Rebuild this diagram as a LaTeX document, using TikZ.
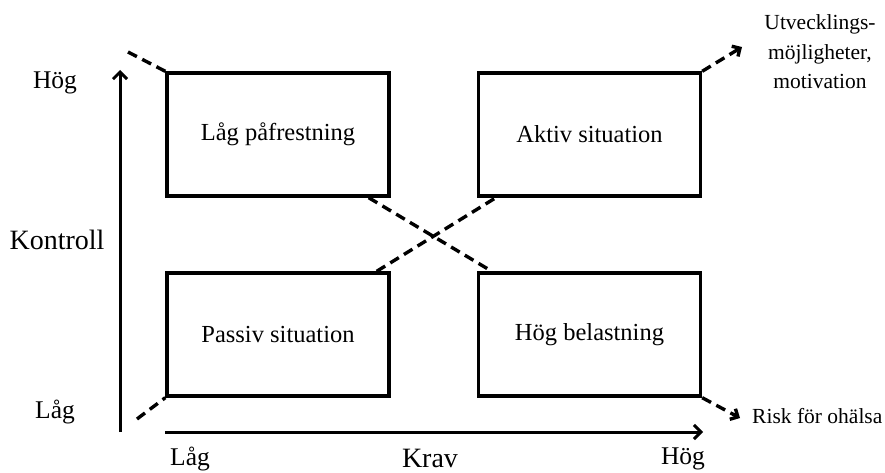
\documentclass[tikz,border=0pt]{standalone}
\usepackage{fontspec}
\setmainfont{Liberation Serif}
\usetikzlibrary{arrows.meta,calc}
\tikzset{
  quad/.style={draw, line width=3.4pt, minimum width=222pt, minimum height=123pt, inner sep=0pt, font=\fontsize{24.5}{28}\selectfont},
  dline/.style={line width=3.4pt, dash pattern=on 10pt off 6pt},
  axis/.style={line width=3pt, -{Straight Barb[length=7pt,width=14pt,line width=3pt]}},
  darr/.style={dline, -{Straight Barb[length=6pt,width=12pt,line width=3.4pt]}},
  lab/.style={font=\fontsize{25.5}{29}\selectfont, inner sep=0pt},
  ttl/.style={font=\fontsize{28}{31}\selectfont, inner sep=0pt},
  side/.style={font=\fontsize{21.5}{29.5}\selectfont, inner sep=0pt}
}
\begin{document}
\begin{tikzpicture}[x=1pt,y=-1pt]
\useasboundingbox (0,0) rectangle (885,473);
\node[quad] (b1) at (278,134.5) {Låg påfrestning};
\node[quad] (b2) at (589.5,134.5) {Aktiv situation};
\node[quad] (b3) at (278,334.5) {Passiv situation};
\node[quad] (b4) at (589.5,334.5) {Hög belastning};
% axes
\coordinate (yo) at (120,432);
\coordinate (yt) at (120,70);
\coordinate (xo) at (165,432);
\coordinate (xt) at (703,432);
\draw[axis] (yo) -- (yt);
\draw[axis] (xo) -- (xt);
% dashed connectors
\coordinate (tl) at (128,52);
\coordinate (bl) at (137,419);
\coordinate (tr) at (742,47);
\coordinate (br) at (740,418);
\draw[dline] (tl) -- (b1.north west);
\draw[dline] (bl) -- (b3.south west);
\draw[dline] ([xshift=-22pt]b1.south east) -- ([xshift=15pt]b4.north west);
\draw[dline] ([xshift=-14pt]b3.north east) -- ([xshift=19pt]b2.south west);
\draw[darr] (b2.north east) -- (tr);
\draw[darr] (b4.south east) -- (br);
% labels
\node[lab] (hy) at (55,83) {Hög};
\node[ttl] (ko) at (57,240) {Kontroll};
\node[lab] (ly) at (55,412) {Låg};
\node[lab] (lx) at (190,459) {Låg};
\node[ttl] (kr) at (430,458) {Krav};
\node[lab] (hx) at (683,459) {Hög};
\node[side, align=center] (utv) at (820,52) {Utvecklings-\\möjligheter,\\motivation};
\node[side, anchor=west] (risk) at (752,416) {Risk för ohälsa};
\end{tikzpicture}
\end{document}
